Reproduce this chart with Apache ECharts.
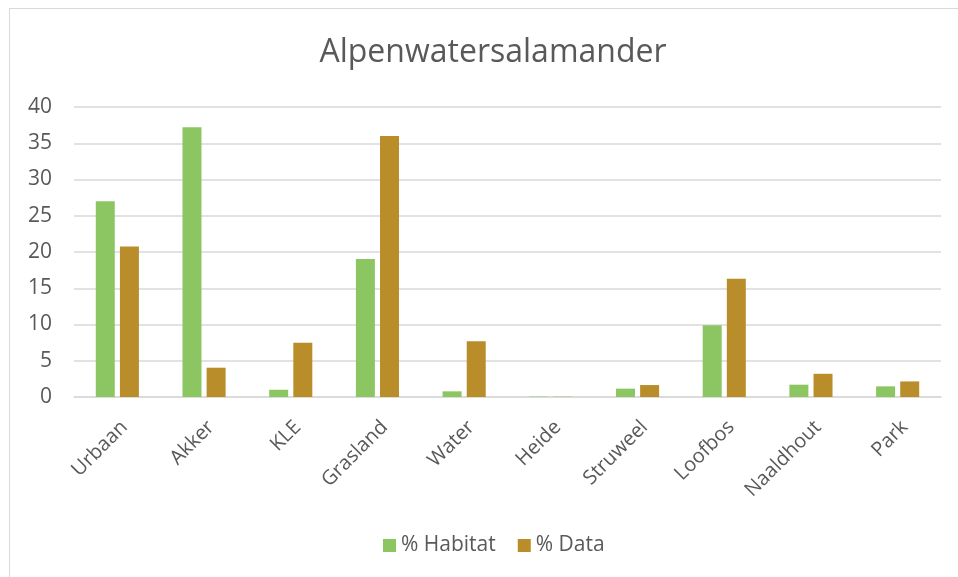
<!DOCTYPE html>
<html>
<head>
<meta charset="utf-8">
<script src="https://cdn.jsdelivr.net/npm/echarts@6/dist/echarts.min.js"></script>
<style>
    html, body { margin: 0; padding: 0; background: #fff; }
    #frame { position: absolute; left: 9px; top: 8px; width: 960px; height: 580px;
             border-left: 1px solid #d9d9d9; border-top: 1px solid #d9d9d9; }
    #chart { position: absolute; left: 0; top: 0; width: 958px; height: 577px; }
</style>
</head>
<body>
<div id="frame"></div>
<div id="chart"></div>
<script>
const categories = ['Urbaan', 'Akker', 'KLE', 'Grasland', 'Water', 'Heide', 'Struweel', 'Loofbos', 'Naaldhout', 'Park']
const habitat = [27.0, 37.2, 1.0, 19.05, 0.78, 0.05, 1.15, 9.9, 1.7, 1.47]
const dataPct = [20.75, 4.04, 7.48, 36.0, 7.7, 0.03, 1.65, 16.3, 3.2, 2.15]
const seriesNames = ['% Habitat', '% Data']
const colors = ['#8cc663', '#b98d29']

const textColor = '#595959'
const font = '"Open Sans", Lato, sans-serif'

const chart = echarts.init(document.getElementById('chart'))
const option = {
    animation: false,
    color: colors,
    title: {
        text: 'Alpenwatersalamander',
        left: 488,
        textAlign: 'center',
        top: 32,
        textStyle: {
            color: textColor,
            fontFamily: font,
            fontWeight: 'normal',
            fontSize: 32
        }
    },
    legend: {
        data: seriesNames,
        bottom: 16,
        left: 378,
        itemWidth: 13,
        itemHeight: 13,
        itemGap: 22,
        icon: 'rect',
        textStyle: {
            color: textColor,
            fontFamily: font,
            fontSize: 21
        }
    },
    grid: {
        left: 74,
        right: 17,
        top: 107,
        bottom: 180
    },
    xAxis: {
        type: 'category',
        data: categories,
        axisLine: { lineStyle: { color: '#d9d9d9', width: 1.5 } },
        axisTick: { show: false },
        axisLabel: {
            rotate: 45,
            margin: 20,
            verticalAlign: 'top',
            color: textColor,
            fontFamily: font,
            fontSize: 20,
            interval: 0
        }
    },
    yAxis: {
        type: 'value',
        min: 0,
        max: 40,
        interval: 5,
        axisLine: { show: false },
        axisTick: { show: false },
        splitLine: { lineStyle: { color: '#d9d9d9', width: 1.5 } },
        axisLabel: {
            margin: 22,
            color: textColor,
            fontFamily: font,
            fontSize: 21
        }
    },
    series: [{
        name: seriesNames[0],
        type: 'bar',
        data: habitat,
        barWidth: 19,
        barGap: '27%'
    }, {
        name: seriesNames[1],
        type: 'bar',
        data: dataPct,
        barWidth: 19,
        barGap: '27%'
    }]
}
chart.setOption(option)
</script>
</body>
</html>
